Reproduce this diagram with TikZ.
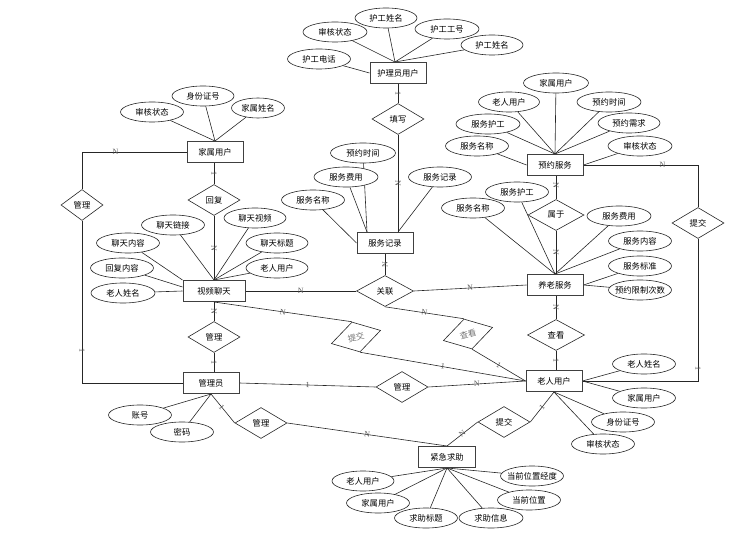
\documentclass[tikz,border=0pt]{standalone}
\usepackage{fontspec}
\setmainfont{Liberation Serif}
\newfontfamily\cjk{Noto Sans CJK SC}
\usetikzlibrary{shapes.geometric,backgrounds}
\newcommand\zb[1]{\makebox[0pt]{#1}}
\begin{document}
\begin{tikzpicture}[x=1pt,y=-1pt,
  txt/.style={font=\cjk\fontsize{8.3}{10}\selectfont},
  ent/.style={txt,rectangle,draw=black!75,line width=1pt,minimum width=56,minimum height=21,inner sep=0,fill=white},
  attr/.style={txt,ellipse,draw=black!85,line width=0.6pt,minimum width=63,minimum height=20,inner sep=0,fill=white},
  rel/.style={txt,diamond,draw=black!85,line width=0.6pt,minimum width=52,minimum height=31,inner sep=0,fill=white},
  tilt/.style={rel,rotate=15,text=black!55},
  conn/.style={draw=black!85,line width=0.6pt},
  lab/.style={font=\fontsize{8}{9}\selectfont,text=black!65,inner sep=0.5pt,sloped}]
\useasboundingbox (0,0) rectangle (736,553);

% entities
\node[ent] (hly) at (398,73) {护理员用户};
\node[ent] (jsu) at (215,152) {家属用户};
\node[ent] (yyfw) at (555,165) {预约服务};
\node[ent] (fwjl) at (385,243) {服务记录};
\node[ent,minimum width=62] (spl) at (214,291) {视频聊天};
\node[ent] (ylfw) at (555,285) {养老服务};
\node[ent] (gly) at (211,383) {管理员};
\node[ent] (lryh) at (554,381) {老人用户};
\node[ent,minimum width=57] (jjqz) at (447,457) {紧急求助};

% relationships
\node[rel] (tx) at (398,119) {填写};
\node[rel] (hf) at (214,200) {回复};
\node[rel,minimum width=42] (glL) at (82,205) {管理};
\node[rel] (glM) at (214,337) {管理};
\node[rel] (glB) at (402,387) {管理};
\node[rel] (glBL) at (261,423) {管理};
\node[rel,minimum width=57] (gll) at (385,291) {关联};
\node[rel,minimum width=56] (sy) at (556,215) {属于};
\node[rel,minimum width=57] (ck) at (556,335) {查看};
\node[rel] (tjR) at (698,223) {提交};
\node[rel] (tjB) at (504,422) {提交};
\node[tilt,minimum width=51] (tA) at (356,337) {提交};
\node[tilt,minimum width=51] (tB) at (468,334) {查看};

% attributes of 护理员用户
\node[attr,minimum width=64] (h1) at (335,32) {审核状态};
\node[attr,minimum width=62] (h2) at (386,18) {护工姓名};
\node[attr,minimum width=64] (h3) at (447,29) {护工工号};
\node[attr,minimum width=62] (h4) at (492,45) {护工姓名};
\node[attr] (h5) at (319,59) {护工电话};
% 家属用户
\node[attr] (j1) at (152,112) {审核状态};
\node[attr,minimum width=62] (j2) at (203,96) {身份证号};
\node[attr,minimum width=53] (j3) at (258,108) {家属姓名};
% 视频聊天
\node[attr] (s1) at (173,225) {聊天链接};
\node[attr,minimum width=62] (s2) at (255,218) {聊天视频};
\node[attr] (s3) at (128,243) {聊天内容};
\node[attr,minimum width=62] (s4) at (277,243) {聊天标题};
\node[attr] (s5) at (122,268) {回复内容};
\node[attr,minimum width=62] (s6) at (277,268) {老人用户};
\node[attr,minimum width=64] (s7) at (123,293) {老人姓名};
% 预约服务
\node[attr,minimum width=65] (y1) at (556,83) {家属用户};
\node[attr,minimum width=61] (y2) at (509,102) {老人用户};
\node[attr,minimum width=64] (y3) at (609,102) {预约时间};
\node[attr,minimum width=64] (y4) at (488,124) {服务护工};
\node[attr,minimum width=62] (y5) at (629,123) {预约需求};
\node[attr] (y6) at (477,146) {服务名称};
\node[attr,minimum width=64] (y7) at (640,146) {审核状态};
% 服务记录
\node[attr,minimum width=65] (f1) at (363,153) {预约时间};
\node[attr,minimum width=64] (f2) at (346,177) {服务费用};
\node[attr] (f3) at (313,200) {服务名称};
\node[attr] (f4) at (440,177) {服务记录};
% 养老服务
\node[attr] (l1) at (517,192) {服务护工};
\node[attr] (l2) at (473,208) {服务名称};
\node[attr,minimum width=64] (l3) at (619,216) {服务费用};
\node[attr] (l4) at (640,241) {服务内容};
\node[attr] (l5) at (640,266) {服务标准};
\node[attr] (l6) at (640,290) {\zb{预约限制次数}};
% 管理员
\node[attr] (g1) at (140,415) {账号};
\node[attr] (g2) at (182,432) {密码};
% 老人用户
\node[attr] (o1) at (644,364) {老人姓名};
\node[attr] (o2) at (644,398) {家属用户};
\node[attr] (o3) at (623,422) {身份证号};
\node[attr] (o4) at (603,444) {审核状态};
% 紧急求助
\node[attr,minimum width=62] (q1) at (363,481) {老人用户};
\node[attr] (q2) at (378,503) {家属用户};
\node[attr] (q3) at (426,518) {求助标题};
\node[attr,minimum width=64] (q4) at (491,518) {求助信息};
\node[attr] (q5) at (529,500) {当前位置};
\node[attr] (q6) at (532,476) {\zb{当前位置经度}};

\begin{pgfonlayer}{background}
% attribute lines
\foreach \a in {h1,h2,h3,h4} \draw[conn] (\a) -- ([xshift=-3pt]hly.north);
\draw[conn] (h5) -- (hly.west);
\foreach \a in {j1,j2,j3} \draw[conn] (\a) -- (jsu.north);
\foreach \a in {s1,s2,s4,s6} \draw[conn] (\a) -- (spl.north);
\draw[conn] (s3) -- (spl.north west);
\draw[conn] (s5) -- ([yshift=4pt]spl.west);
\draw[conn] (s7) -- (spl.west);
\foreach \a in {y1,y2,y3,y4,y5} \draw[conn] (\a) -- (yyfw.north);
\draw[conn] (y6) -- (yyfw.west);
\draw[conn] (y7) -- (yyfw.east);
\foreach \a in {f1,f2} \draw[conn] (\a) -- ([xshift=-18pt]fwjl.north);
\draw[conn] (f3) -- (fwjl.west);
\draw[conn] (f4) -- ([xshift=13pt]fwjl.north);
\foreach \a in {l1,l2,l3,l4} \draw[conn] (\a) -- (ylfw.north);
\foreach \a in {l5,l6} \draw[conn] (\a) -- (ylfw.east);
\foreach \a in {g1,g2} \draw[conn] (\a) -- (gly.south);
\foreach \a in {o1,o2} \draw[conn] (\a) -- (lryh.east);
\foreach \a in {o3,o4} \draw[conn] (\a) -- (lryh.south);
\foreach \a in {q1,q2,q3,q4,q5,q6} \draw[conn] (\a) -- (jjqz.south);

% relationship lines
\draw[conn] (hly.south -| tx.north) -- node[lab]{1} (tx.north);
\draw[conn] (tx.south) -- node[lab]{N} (tx.south |- fwjl.north);
\draw[conn] (hf.north |- jsu.south) -- node[lab]{1} (hf.north);
\draw[conn] (hf.south) -- node[lab]{N} (hf.south |- spl.north);
\draw[conn] (jsu.west) -| node[lab,pos=0.34]{N} (glL.north);
\draw[conn] (glL.south) |- node[lab,pos=0.4]{1} (gly.west);
\draw[conn] (glM.north |- spl.south) -- node[lab]{N} (glM.north);
\draw[conn] (glM.south) -- node[lab]{1} (glM.south |- gly.north);
\draw[conn] (spl.east) -- node[lab]{N} (gll.west);
\draw[conn] (gll.east) -- node[lab]{N} (ylfw.west);
\draw[conn] (gll.north) -- node[lab]{N} (gll.north |- fwjl.south);
\draw[conn] (sy.north |- yyfw.south) -- node[lab,pos=0.4]{N} (sy.north);
\draw[conn] (sy.south) -- node[lab]{N} (sy.south |- ylfw.north);
\draw[conn] (ck.north |- ylfw.south) -- node[lab]{N} (ck.north);
\draw[conn] (ck.south) -- node[lab]{1} (ck.south |- lryh.north);
\draw[conn] (yyfw.east) -| node[lab,pos=0.345]{N} (tjR.north);
\draw[conn] (tjR.south) |- node[lab,pos=0.455]{1} (lryh.east);
\draw[conn] (gly.east) -- node[lab]{1} (glB.west);
\draw[conn] (glB.east) -- node[lab]{N} (lryh.west);
\draw[conn] (gly.south) -- node[lab,pos=0.45]{1} (glBL.west);
\draw[conn] (glBL.east) -- node[lab]{N} (jjqz.north);
\draw[conn] (tjB.west) -- node[lab]{N} (jjqz.north);
\draw[conn] (lryh.south) -- node[lab]{1} (tjB.east);
\draw[conn] (spl.south) -- node[lab]{N} (tA.north);
\draw[conn] (tA.south) -- node[lab]{1} (lryh.west);
\draw[conn] (gll.south) -- node[lab]{N} (tB.north);
\draw[conn] (tB.south) -- node[lab]{1} (lryh.west);
\end{pgfonlayer}
\end{tikzpicture}
\end{document}
